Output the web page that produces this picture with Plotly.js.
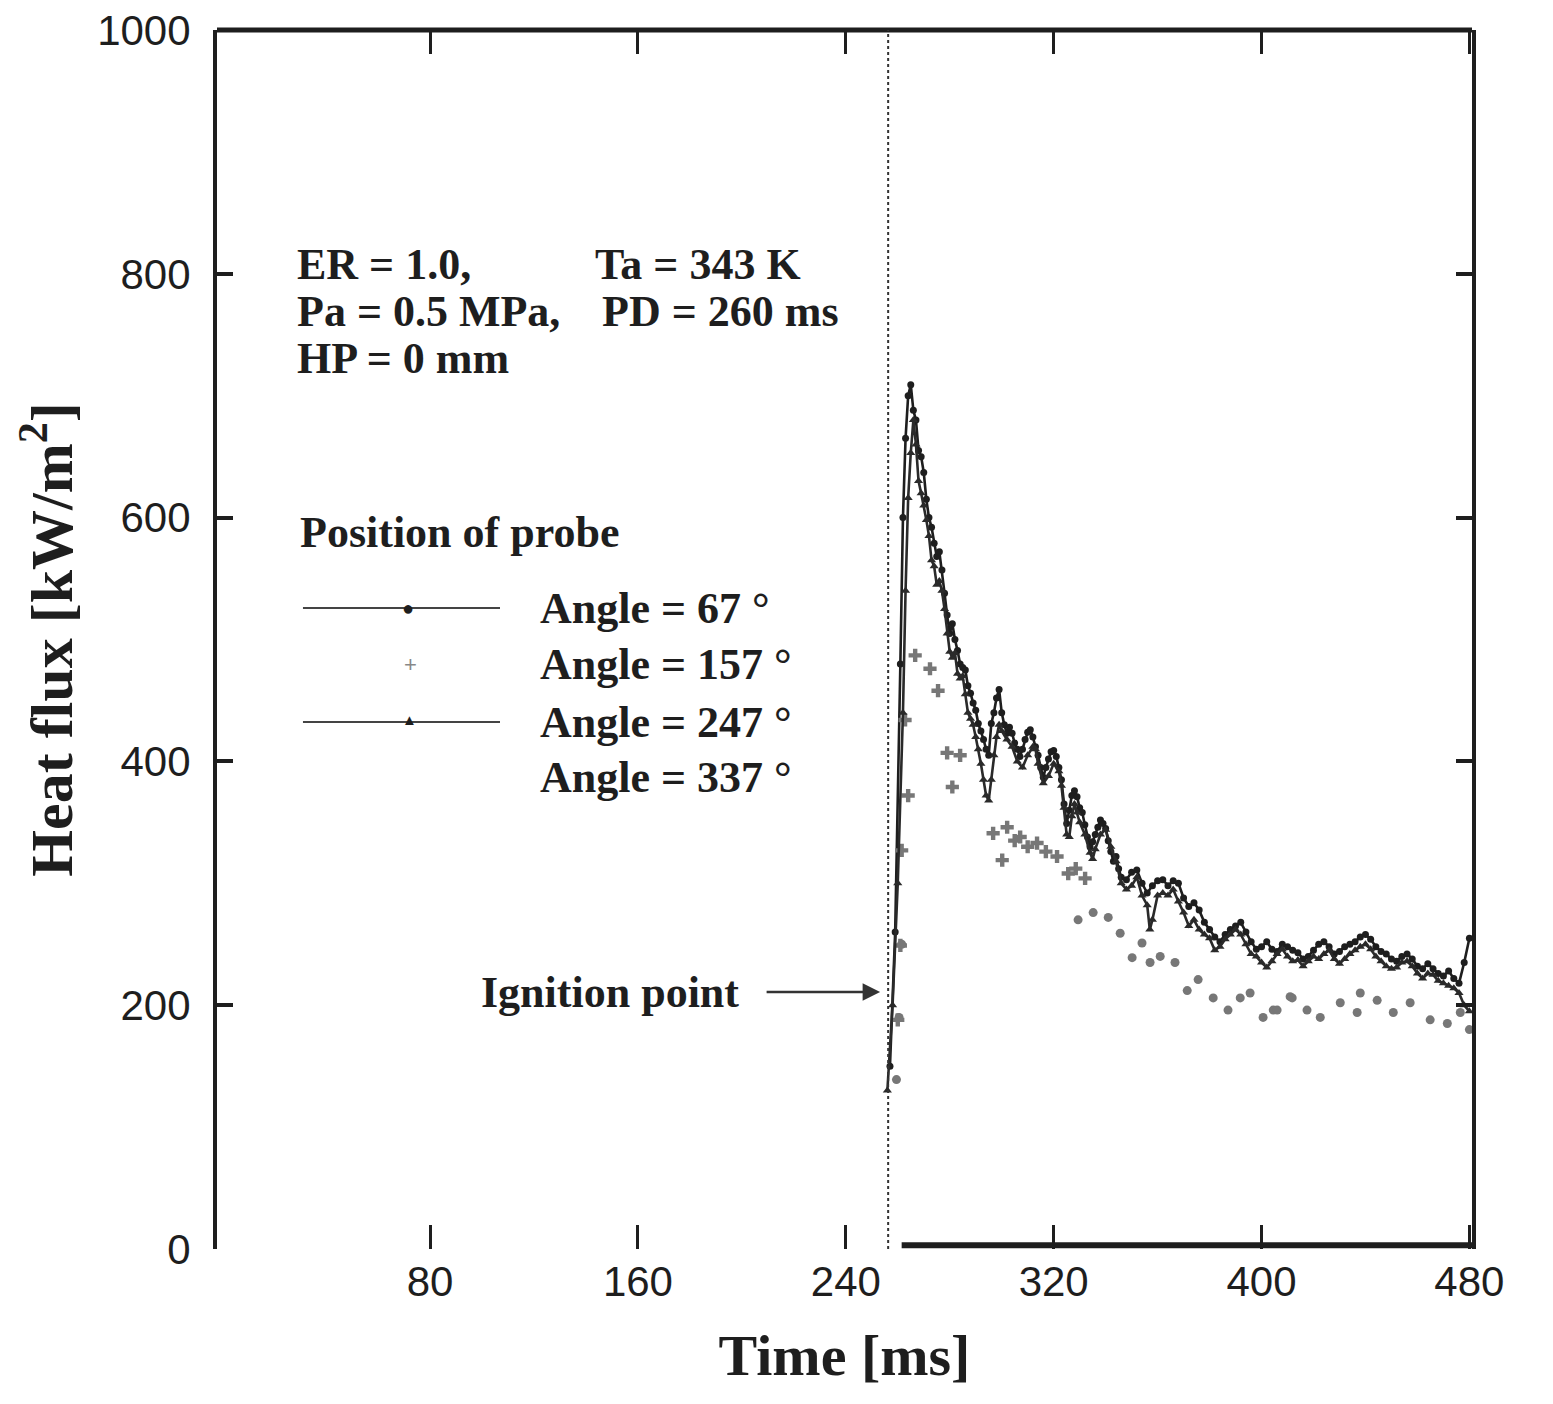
<!DOCTYPE html>
<html>
<head>
<meta charset="utf-8">
<script src="https://cdn.plot.ly/plotly-3.0.1.min.js"></script>
<style>html,body{margin:0;padding:0;background:#fff;}#chart{width:1553px;height:1404px;}</style>
</head>
<body>
<div id="chart"></div>
<script>
// ---- data ----
const xTickVals = [80, 160, 240, 320, 400, 480];
const xTickText = ["80", "160", "240", "320", "400", "480"];
const yTickVals = [0, 200, 400, 600, 800, 1000];
const yTickText = ["0", "200", "400", "600", "800", "1000"];
const ignitionTime = 256.3;

// Angle = 67 deg (solid line with circles)
const t67 = [257,259,261,262,263,264,265,266,267,268,269,270,271,272,273,274,275,276,277,278,279,280,281,282,283,284,285,286,287,288,289,290,291,292,293,294,295,296,297,298,299,300,301,302,303,304,305,306,307,308,309,310,311,312,313,314,315,316,317,318,319,320,321,322,323,324,325,326,327,328,329,330,331,332,333,334,335,336,337,338,339,340,341,342,343,344,345,346,348,350,352,354,356,358,360,362,364,366,368,370,372,374,376,378,380,382,384,386,388,390,392,394,396,398,400,402,404,406,408,410,412,414,416,418,420,422,424,426,428,430,432,434,436,438,440,442,444,446,448,450,452,454,456,458,460,462,464,466,468,470,472,474,476,478,480];
const q67 = [150,260,480,600,665,700,709,688,680,655,650,637,615,600,592,579,568,572,557,538,520,505,513,500,491,480,477,475,462,456,448,442,431,425,418,410,405,431,440,452,459,440,430,423,428,423,415,410,404,410,418,424,426,420,412,405,395,387,395,402,408,409,404,395,385,365,349,360,372,376,371,362,358,348,338,330,334,340,346,352,349,345,335,326,318,322,312,305,303,309,311,300,292,298,302,303,298,302,300,288,281,284,278,268,262,256,252,258,262,265,268,260,252,246,248,252,246,244,250,248,245,243,238,240,245,250,252,248,242,244,248,250,252,256,258,254,248,244,242,238,236,240,242,238,232,230,234,230,226,224,228,222,218,235,255];

// Angle = 247 deg (solid line with triangles)
const t247 = [256,258,260,262,263,264,265,266,267,268,269,270,271,272,273,274,275,276,277,278,279,280,281,282,283,284,285,286,287,288,289,290,291,292,293,294,295,296,297,298,299,300,302,304,306,308,310,312,313,314,316,318,320,322,323,324,325,326,327,328,329,330,332,334,335,336,338,340,342,344,346,348,350,352,354,356,357,358,360,362,364,366,368,370,372,374,376,378,380,382,384,386,388,390,392,394,396,398,400,402,404,406,408,410,412,414,416,418,420,422,424,426,428,430,432,434,436,438,440,442,444,446,448,450,452,454,456,458,460,462,464,466,468,470,472,474,476,478,480];
const q247 = [130,200,300,440,540,616,653,680,660,630,620,610,598,585,565,560,545,548,540,525,505,490,485,489,472,468,470,455,440,435,430,420,410,398,385,372,368,385,405,420,430,425,418,412,400,395,405,412,410,398,382,388,398,392,380,362,340,338,355,365,358,350,340,325,320,328,340,344,330,318,300,295,298,305,290,282,262,270,290,292,290,295,285,276,265,270,262,258,255,245,248,254,258,262,258,250,242,240,235,231,236,242,246,240,236,237,232,236,240,238,242,245,238,234,238,242,245,248,250,246,240,236,232,230,231,235,236,232,226,222,226,225,220,218,216,214,210,200,195];

// Angle = 157 deg (grey crosses)
const t157 = [260,261,261.5,262.8,264,266.7,272.4,275.5,279,281,284,296.7,300.2,302.1,305,307.1,310,313.6,317,321.3,325.6,328.5,332.1];
const q157 = [188,249,327,434,372,487,476,458,407,379,405,341,319,346,335,338,330,333,326,322,308,312,304];

// Angle = 337 deg (grey dots)
const t337 = [259.5,260.5,261.5,329.4,335.2,341,345.6,350.2,354,357.1,361,366.7,371.4,375.6,381.4,387.1,391.8,395.6,400.6,404.5,406,411,411.8,417.5,422.6,430.3,436.8,438,444.5,450.7,457.2,464.9,471.5,476.5,480];
const q337 = [139,190,250,270,276,272,259,239,251,235,240,235,212,221,206,196,206,210,190,196,196,207,206,196,190,202,194,210,204,194,202,188,185,194,180];

// ---- layout helpers ----
const serif = "Liberation Serif, Times New Roman, serif";
const sans = "Liberation Sans, Arial, Helvetica, sans-serif";
const ink = "#1e1e1e";
const txt = (text, x, y, size) => ({text: "<b>" + text + "</b>", x: x, y: y, xref: "paper", yref: "paper",
  xanchor: "left", yanchor: "middle", showarrow: false, font: {family: serif, size: size || 44, color: ink}});

const traces = [
  {name: "Angle = 67 °", x: t67, y: q67, mode: "lines+markers", line: {color: ink, width: 2.6},
   marker: {symbol: "circle", size: 7, color: ink}},
  {name: "Angle = 157 °", x: t157, y: q157, mode: "markers",
   marker: {symbol: "cross", size: 11, color: "#777777", line: {width: 0}}},
  {name: "Angle = 247 °", x: t247, y: q247, mode: "lines+markers", line: {color: "#2a2a2a", width: 2.6},
   marker: {symbol: "triangle-up", size: 8, color: "#2a2a2a"}},
  {name: "Angle = 337 °", x: t337, y: q337, mode: "markers",
   marker: {symbol: "circle", size: 9, color: "#777777"}}
];

const layout = {
  width: 1553, height: 1404,
  margin: {l: 217, r: 81, t: 30, b: 155},
  paper_bgcolor: "#ffffff", plot_bgcolor: "#ffffff",
  showlegend: false,
  font: {family: sans, color: ink},
  xaxis: {
    range: [-2, 481], tickmode: "array", tickvals: xTickVals, ticktext: xTickText,
    ticks: "inside", ticklen: 24, tickwidth: 3, tickcolor: ink, mirror: "ticks",
    showline: false, showgrid: false, zeroline: false,
    tickfont: {family: sans, size: 42, color: ink}, ticklabelstandoff: 4,
    title: {text: "<b>Time [ms]</b>", font: {family: serif, size: 58, color: ink}, standoff: 30}
  },
  yaxis: {
    range: [0, 1000], tickmode: "array", tickvals: yTickVals, ticktext: yTickText,
    ticks: "inside", ticklen: 16, tickwidth: 4, tickcolor: ink, mirror: "ticks",
    showline: true, linewidth: 4, linecolor: ink, showgrid: false, zeroline: false,
    tickfont: {family: sans, size: 42, color: ink}, ticklabelstandoff: 14,
    title: {text: "<b>Heat flux [kW/m<sup>2</sup>]</b>", font: {family: serif, size: 60, color: ink}, standoff: 6}
  },
  shapes: [
    // top frame line
    {type: "line", xref: "paper", yref: "paper", x0: 0, x1: 1, y0: 1, y1: 1, line: {color: ink, width: 5}},
    // bottom axis segment (drawn only after ignition)
    {type: "line", xref: "x", yref: "paper", x0: 261.5, x1: 481, y0: 0.003, y1: 0.003, line: {color: ink, width: 6}},
    // ignition dotted line
    {type: "line", xref: "x", yref: "paper", x0: ignitionTime, x1: ignitionTime, y0: 0, y1: 1, line: {color: "#333", width: 2, dash: "dot"}},
    // legend samples
    {type: "line", xref: "paper", yref: "paper", x0: 0.0685, x1: 0.2255, y0: 0.5258, y1: 0.5258, line: {color: "#444", width: 2}},
    {type: "line", xref: "paper", yref: "paper", x0: 0.0685, x1: 0.2255, y0: 0.4323, y1: 0.4323, line: {color: "#444", width: 2}}
  ],
  annotations: [
    txt("ER = 1.0,", 0.0622, 0.808),
    txt("Ta = 343 K", 0.2996, 0.808),
    txt("Pa = 0.5 MPa,", 0.0622, 0.7687),
    txt("PD = 260 ms", 0.3052, 0.7687),
    txt("HP = 0 mm", 0.0622, 0.7309),
    txt("Position of probe", 0.0645, 0.5874),
    txt("Angle = 67 °", 0.2558, 0.5258),
    txt("Angle = 157 °", 0.2558, 0.4791),
    txt("Angle = 247 °", 0.2558, 0.4323),
    txt("Angle = 337 °", 0.2558, 0.3864),
    // ignition label with its arrow
    {text: "<b>Ignition point</b>", x: 253.2, y: 210.8, xref: "x", yref: "y", showarrow: true,
     ax: -270, ay: 0, startstandoff: 26, arrowhead: 2, arrowsize: 1.4, arrowwidth: 2.5, arrowcolor: "#333",
     font: {family: serif, size: 44, color: ink}},
    // legend glyphs
    {text: "●", x: 0.1458, y: 0.5258, xref: "paper", yref: "paper", showarrow: false, font: {size: 20, color: ink}},
    {text: "+", x: 0.1474, y: 0.4791, xref: "paper", yref: "paper", showarrow: false, font: {size: 22, color: "#888"}},
    {text: "▲", x: 0.1458, y: 0.4343, xref: "paper", yref: "paper", showarrow: false, font: {size: 15, color: ink}}
  ]
};

Plotly.newPlot("chart", traces, layout, {staticPlot: true, displayModeBar: false});
</script>
</body>
</html>
